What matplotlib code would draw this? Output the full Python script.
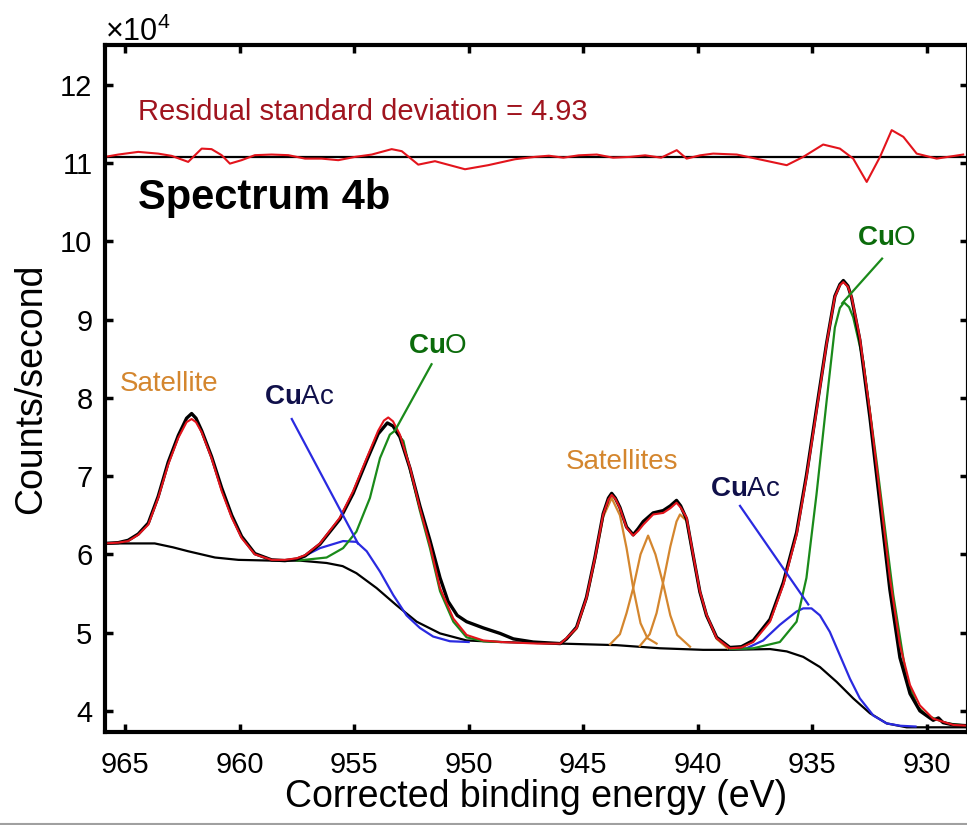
import matplotlib
matplotlib.use("Agg")
import matplotlib.pyplot as plt
from matplotlib.lines import Line2D

plt.rcParams["font.family"] = "Liberation Sans"
plt.rcParams["mathtext.fontset"] = "custom"
plt.rcParams["mathtext.rm"] = "Liberation Sans"
plt.rcParams["mathtext.bf"] = "Liberation Sans:bold"

# counts are in units of 1e4 counts/second
# measured spectrum
data_ev = [965.87, 965.29, 964.86, 964.42, 963.98, 963.55, 963.11, 962.67, 962.31, 962.09,
           961.9, 961.65, 961.22, 960.78, 960.34, 959.91, 959.33, 958.60, 958.02, 957.5,
           957.14, 956.49, 955.62, 955.04, 954.45, 953.95, 953.55, 953.3, 953.0, 952.56,
           952.13, 951.69, 951.25, 950.9, 950.5, 950.09, 949.36, 948.63, 948.05, 947.18, 946.0,
           945.73, 945.29, 944.86, 944.49, 944.13, 943.9, 943.76, 943.6, 943.40, 943.11,
           942.82, 942.6, 942.38, 941.95, 941.51, 941.2, 940.93, 940.75, 940.49, 940.20,
           939.91, 939.62, 939.18, 938.6, 938.1, 937.58, 936.85, 936.27, 935.69, 935.26,
           934.82, 934.38, 934.02, 933.8, 933.65, 933.45, 933.29, 932.93, 932.49, 932.05,
           931.62, 931.18, 930.74, 930.31, 929.73, 929.5, 929.3, 928.85, 928.21]
data_y = [6.14, 6.15, 6.18, 6.26, 6.40, 6.74, 7.18, 7.52, 7.74, 7.80,
          7.74, 7.58, 7.25, 6.85, 6.50, 6.23, 6.01, 5.93, 5.92, 5.94,
          5.98, 6.13, 6.45, 6.78, 7.20, 7.54, 7.68, 7.64, 7.50, 7.10,
          6.62, 6.18, 5.70, 5.40, 5.22, 5.14, 5.06, 4.99, 4.92, 4.88, 4.86,
          4.92, 5.07, 5.45, 5.96, 6.52, 6.72, 6.78, 6.72, 6.60, 6.35,
          6.25, 6.33, 6.42, 6.53, 6.56, 6.62, 6.69, 6.62, 6.45, 5.98,
          5.52, 5.22, 4.94, 4.81, 4.82, 4.90, 5.17, 5.64, 6.28, 7.01,
          7.86, 8.70, 9.30, 9.45, 9.50, 9.43, 9.28, 8.74, 7.75, 6.64,
          5.55, 4.68, 4.22, 4.00, 3.88, 3.91, 3.85, 3.82, 3.81]

# fitted envelope
fit_ev = [965.87, 965.29, 964.86, 964.42, 963.98, 963.55, 963.11, 962.67, 962.31, 962.09,
          961.9, 961.65, 961.22, 960.78, 960.34, 959.91, 959.33, 958.60, 958.02, 957.5,
          957.14, 956.49, 955.62, 955.04, 954.45, 953.95, 953.7, 953.51, 953.3, 953.0,
          952.56, 952.13, 951.69, 951.25, 950.67, 950.09, 949.36, 948.6, 947.0, 946.0,
          945.73, 945.29, 944.86, 944.49, 944.13, 943.9, 943.76, 943.6, 943.40, 943.11,
          942.82, 942.6, 942.38, 941.95, 941.51, 941.2, 940.93, 940.75, 940.49, 940.20,
          939.91, 939.62, 939.18, 938.6, 938.1, 937.58, 936.85, 936.27, 935.69, 935.26,
          934.82, 934.38, 934.02, 933.8, 933.65, 933.45, 933.29, 932.93, 932.49, 932.05,
          931.62, 931.18, 930.74, 930.31, 929.73, 928.85, 928.21]
fit_y = [6.14, 6.15, 6.17, 6.25, 6.38, 6.72, 7.15, 7.49, 7.69, 7.73,
         7.69, 7.56, 7.23, 6.81, 6.47, 6.21, 6.00, 5.93, 5.93, 5.95,
         5.99, 6.14, 6.47, 6.81, 7.23, 7.58, 7.71, 7.75, 7.70, 7.53,
         7.11, 6.59, 6.12, 5.57, 5.18, 4.97, 4.90, 4.88, 4.86, 4.86,
         4.93, 5.06, 5.44, 5.95, 6.51, 6.70, 6.76, 6.71, 6.59, 6.34,
         6.24, 6.30, 6.38, 6.51, 6.53, 6.59, 6.66, 6.60, 6.47, 5.99,
         5.53, 5.23, 4.93, 4.80, 4.81, 4.88, 5.14, 5.61, 6.25, 6.98,
         7.83, 8.69, 9.29, 9.44, 9.48, 9.42, 9.29, 8.77, 7.83, 6.77,
         5.70, 4.84, 4.33, 4.07, 3.90, 3.82, 3.81]

# Shirley-type background
bg_ev = [965.87, 963.7, 962.9, 962.24, 961.07, 960.05, 958.53, 957.36, 956.2, 955.5,
         954.9, 954.02, 953.15, 952.27, 951.25, 950.09, 948.6, 946.0, 943.55, 941.65,
         939.77, 938.6, 936.85, 936.12, 935.4, 934.67, 933.94, 933.22, 932.49, 931.76,
         930.89, 928.21]
bg_y = [6.14, 6.14, 6.09, 6.04, 5.96, 5.93, 5.92, 5.92, 5.89, 5.85,
        5.76, 5.57, 5.35, 5.14, 4.99, 4.90, 4.88, 4.86, 4.84, 4.80,
        4.78, 4.78, 4.79, 4.76, 4.69, 4.56, 4.37, 4.16, 3.97, 3.84,
        3.79, 3.79]

# CuO components (2p1/2 and 2p3/2)
cuo_a_ev = [957.5, 956.2, 955.48, 954.9, 954.31, 953.87, 953.44, 953.22, 952.85, 952.56,
            952.13, 951.69, 951.25, 950.67, 950.09, 949.36, 948.6]
cuo_a_y = [5.92, 5.96, 6.08, 6.29, 6.72, 7.23, 7.53, 7.58, 7.45, 7.08,
           6.56, 6.08, 5.53, 5.14, 4.94, 4.89, 4.88]
cuo_b_ev = [938.6, 937.58, 936.42, 935.69, 935.26, 934.82, 934.38, 934.02, 933.8, 933.62,
            933.4, 933.22, 932.78, 932.2, 931.47, 930.89, 930.4, 930.0, 929.14, 928.21]
cuo_b_y = [4.79, 4.80, 4.88, 5.14, 5.70, 6.77, 7.96, 8.90, 9.15, 9.22,
           9.16, 9.03, 8.47, 7.19, 5.48, 4.41, 4.05, 3.94, 3.84, 3.81]

# Cu acetate components
cuac_a_ev = [957.5, 956.49, 955.48, 954.9, 954.45, 953.87, 953.29, 952.71, 952.13, 951.55,
             950.82, 950.0]
cuac_a_y = [5.93, 6.08, 6.17, 6.16, 6.04, 5.78, 5.48, 5.22, 5.06, 4.95,
            4.89, 4.88]
cuac_b_ev = [938.6, 937.87, 937.15, 936.42, 935.69, 935.4, 935.04, 934.67, 934.24, 933.8,
             933.36, 932.93, 932.34, 931.76, 931.18, 930.5]
cuac_b_y = [4.79, 4.80, 4.90, 5.10, 5.27, 5.31, 5.31, 5.22, 5.01, 4.71,
            4.41, 4.16, 3.94, 3.84, 3.81, 3.80]

# shake-up satellites
sat1_ev = [946.0, 945.73, 945.29, 944.86, 944.49, 944.13, 943.76, 943.40, 943.11, 942.82,
           942.5, 942.2, 941.8]
sat1_y = [4.86, 4.92, 5.05, 5.43, 5.93, 6.48, 6.72, 6.50, 6.08, 5.57,
          5.12, 4.93, 4.86]
sat2_ev = [943.83, 943.4, 943.11, 942.82, 942.5, 942.17, 941.85, 941.51, 941.2, 940.9, 940.34]
sat2_y = [4.85, 4.98, 5.25, 5.57, 6.00, 6.24, 6.00, 5.62, 5.22, 4.97, 4.82]
sat3_ev = [942.53, 942.1, 941.8, 941.51, 941.2, 940.93, 940.78, 940.49, 940.20, 939.91,
           939.62, 939.18, 938.7]
sat3_y = [4.83, 4.98, 5.25, 5.65, 6.10, 6.42, 6.51, 6.43, 5.97, 5.52,
          5.22, 4.92, 4.80]

# fit residual, drawn around a zero line
res_zero = 11.08
res_ev = [965.87, 965.29, 964.42, 963.55, 962.96, 962.24, 961.65, 961.22, 960.78, 960.42,
          959.91, 959.33, 958.60, 957.87, 957.14, 956.42, 955.69, 954.96, 954.23, 953.36,
          952.92, 952.20, 951.47, 950.16, 949.15, 947.98, 947.11, 946.5, 945.87, 945.2,
          944.41, 943.7, 942.96, 942.3, 941.6, 940.92, 940.49, 939.9, 939.33, 938.30,
          937.14, 936.12, 935.40, 934.53, 933.80, 933.22, 932.63, 932.05, 931.54, 931.03,
          930.45, 929.58, 928.42]
res_y = [0.0, 0.03, 0.064, 0.042, 0.013, -0.064, 0.106, 0.099, 0.022, -0.086,
         -0.042, 0.022, 0.03, 0.022, -0.022, -0.022, -0.042, 0.0, 0.03, 0.099,
         0.073, -0.099, -0.055, -0.158, -0.106, -0.03, 0.0, 0.015, -0.01, 0.02,
         0.03, -0.01, 0.0, 0.02, -0.01, 0.086, -0.022, 0.02, 0.042, 0.03,
         -0.042, -0.106, 0.0, 0.158, 0.106, -0.022, -0.32, 0.0, 0.342, 0.256,
         0.042, -0.022, 0.03]

x_ticks = [965, 960, 955, 950, 945, 940, 935, 930]
y_ticks = [4, 5, 6, 7, 8, 9, 10, 11, 12]

orange = "#d4862e"
green = "#1a8a1a"
blue = "#2a2ae0"
navy = "#10104a"
dark_green = "#0b6b0b"
red = "#e3141c"

fig = plt.figure(figsize=(9.67, 8.25), dpi=100)
ax = fig.add_axes([105 / 967, 1 - 732 / 825, 863 / 967, 687 / 825])

# background and components
ax.plot(bg_ev, bg_y, color="black", linewidth=1.6)
for ev, y in [(sat1_ev, sat1_y), (sat2_ev, sat2_y), (sat3_ev, sat3_y)]:
    ax.plot(ev, y, color=orange, linewidth=1.6)
ax.plot(cuac_a_ev, cuac_a_y, color=blue, linewidth=1.6)
ax.plot(cuac_b_ev, cuac_b_y, color=blue, linewidth=1.6)
ax.plot(cuo_a_ev, cuo_a_y, color=green, linewidth=1.6)
ax.plot(cuo_b_ev, cuo_b_y, color=green, linewidth=1.6)

# measured data and envelope
ax.plot(data_ev, data_y, color="black", linewidth=2.4)
ax.plot(fit_ev, fit_y, color=red, linewidth=1.5)

# residual
ax.axhline(res_zero, color="black", linewidth=1.6)
ax.plot(res_ev, [res_zero + r for r in res_y], color=red, linewidth=1.5)

# pointer lines from labels to peaks
ax.plot([957.72, 954.83], [7.73, 6.14], color=blue, linewidth=1.6)
ax.plot([951.62, 953.22], [8.43, 7.58], color=green, linewidth=1.6)
ax.plot([938.16, 935.18], [6.62, 5.36], color=blue, linewidth=1.6)
ax.plot([931.96, 933.70], [9.78, 9.21], color=green, linewidth=1.6)

label_fs = 20
ax.text(963.08, 8.09, "Satellite", color=orange, fontsize=label_fs, ha="center", va="baseline")
ax.text(943.29, 7.09, "Satellites", color=orange, fontsize=label_fs, ha="center", va="baseline")
ax.text(957.41, 7.92, r"$\mathbf{Cu}$Ac", color=navy, fontsize=label_fs, ha="center", va="baseline")
ax.text(937.94, 6.74, r"$\mathbf{Cu}$Ac", color=navy, fontsize=label_fs, ha="center", va="baseline")
ax.text(951.34, 8.58, r"$\mathbf{Cu}$O", color=dark_green, fontsize=label_fs, ha="center", va="baseline")
ax.text(931.77, 9.95, r"$\mathbf{Cu}$O", color=dark_green, fontsize=label_fs, ha="center", va="baseline")

ax.text(964.43, 11.55, "Residual standard deviation = 4.93", color="#a0141e",
        fontsize=21, ha="left", va="baseline")
ax.text(964.43, 10.42, "Spectrum 4b", color="black", fontsize=30,
        fontweight="bold", ha="left", va="baseline")

ax.set_xlim(965.87, 928.21)
ax.set_ylim(3.73, 12.51)
ax.set_xticks(x_ticks)
ax.set_yticks(y_ticks)

ax.set_xlabel("Corrected binding energy (eV)", fontsize=27, labelpad=0)
ax.set_ylabel("Counts/second", fontsize=27, labelpad=8)

ax.tick_params(direction="in", length=6, width=2.5, labelsize=21,
               top=True, right=True, pad=9)
ax.tick_params(axis="x", pad=14)
for spine in ax.spines.values():
    spine.set_linewidth(3)

fig.text(105 / 967, 1 - 41 / 825, r"×10$^{4}$", fontsize=22, ha="left", va="baseline")

# thin frame line along the lower edge
fig.add_artist(Line2D([0, 1], [1.5 / 825, 1.5 / 825], color="#a0a0a0", linewidth=1.5))

fig.savefig("out.png", dpi=100)
